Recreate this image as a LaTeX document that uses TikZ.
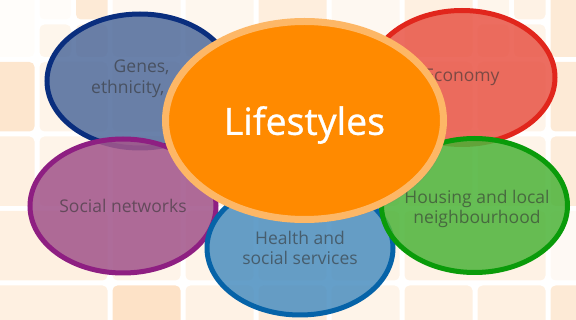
\documentclass[tikz,border=0pt]{standalone}
\usepackage{fontspec}
\setmainfont{Open Sans}
\usepackage{tikz}
\usetikzlibrary{shapes.geometric,shadows}

\definecolor{tilepeach}{HTML}{FCD9B4}
\definecolor{genesfill}{HTML}{556F9E}
\definecolor{genesline}{HTML}{0A2E7E}
\definecolor{econfill}{HTML}{E9594A}
\definecolor{econline}{HTML}{E1261C}
\definecolor{socialfill}{HTML}{A3588C}
\definecolor{socialline}{HTML}{8E1F82}
\definecolor{healthfill}{HTML}{5092C1}
\definecolor{healthline}{HTML}{0663A8}
\definecolor{housefill}{HTML}{51B53E}
\definecolor{houseline}{HTML}{0A9B0A}
\definecolor{lifefill}{HTML}{FF8A00}
\definecolor{lifeline}{HTML}{FDB766}

\begin{document}
\begin{tikzpicture}[x=1pt,y=-1pt,
    tile/.style={rounded corners=5pt},
    factor/.style={ellipse, draw, line width=5pt, inner sep=0pt,
        fill opacity=0.88, text opacity=0.6, text=black!80,
        minimum width=186pt, minimum height=134pt, align=center,
        font=\fontsize{17.5}{20.5}\selectfont}]
    \useasboundingbox (0,0) rectangle (576,320);
    \clip (0,0) rectangle (576,320);

    % draw background tiles
    \foreach \xa/\ya/\xb/\yb/\s in {-36/-15/37/59.5/6, 37/-15/73.5/22/8,
        73.5/-15/110/22/55, 37/22/73.5/59.5/25, 73.5/22/110/59.5/35,
        110/-15/183/59.5/20, 183/-15/256/59.5/22, 256/-15/329/59.5/45,
        329/-15/402/59.5/18, 402/-15/475/59.5/40, 475/-15/511.5/22/25,
        511.5/-15/548/22/35, 475/22/511.5/59.5/30, 511.5/22/548/59.5/30,
        548/-15/621/59.5/55, -36/59.5/37/134/65, 548/59.5/621/134/55,
        -36/134/37/208.5/40, 548/134/621/208.5/50,
        -36/208.5/110/283/40, 402/208.5/548/283/35, 548/208.5/621/283/15,
        -36/283/110/357.5/40, 110/283/183/357.5/75, 183/283/256/357.5/35,
        256/283/329/357.5/50, 329/283/402/357.5/30, 402/283/475/357.5/40,
        475/283/548/357.5/40, 548/283/621/357.5/55}
    \fill[tile, tilepeach!\s!white] (\xa+2.5,\ya+2.5) rectangle (\xb-2.5,\yb-2.5);
    \foreach \xa in {37,110,...,475}
    \foreach \ya in {59.5,134}
    \fill[tile, tilepeach!30!white] (\xa+2.5,\ya+2.5) rectangle ++(68,69.5);
    \foreach \xa in {110,183,...,329}
    \fill[tile, tilepeach!30!white] (\xa+2.5,211) rectangle ++(68,69.5);

    % draw factor ellipses
    \node[factor, fill=genesfill, draw=genesline] (genes) at (140,81) {};
    \node[factor, fill=econfill, draw=econline] (economy) at (462,77.5) {Economy};
    \node[factor, fill=socialfill, draw=socialline] (social) at (123,206) {Social networks};
    \node[factor, fill=healthfill, draw=healthline] (health) at (300,248) {Health and\\social services};
    \node[factor, fill=housefill, draw=houseline] (housing) at (474.5,205.5) {};
    \node[align=center, text=black!80, text opacity=0.6,
        font=\fontsize{17.5}{20.5}\selectfont] (housetext) at (477,209) {Housing and local\\neighbourhood};
    \node[align=right, anchor=east, text=black!80, text opacity=0.6,
        font=\fontsize{17.5}{20.5}\selectfont] (genestext) at (173,79) {Genes,\\ethnicity,\hspace*{5pt}};

    % draw centre
    \node[ellipse, inner sep=0pt, minimum width=278pt, minimum height=198pt,
        fill=lifefill, draw=lifeline, line width=7pt, text=white, text depth=0pt,
        drop shadow={shadow xshift=3pt, shadow yshift=-3pt, opacity=0.3},
        font=\fontsize{37.5}{40}\selectfont\addfontfeature{FakeBold=0.8}] (lifestyles) at (304.5,120.5) {Lifestyles};
\end{tikzpicture}
\end{document}
